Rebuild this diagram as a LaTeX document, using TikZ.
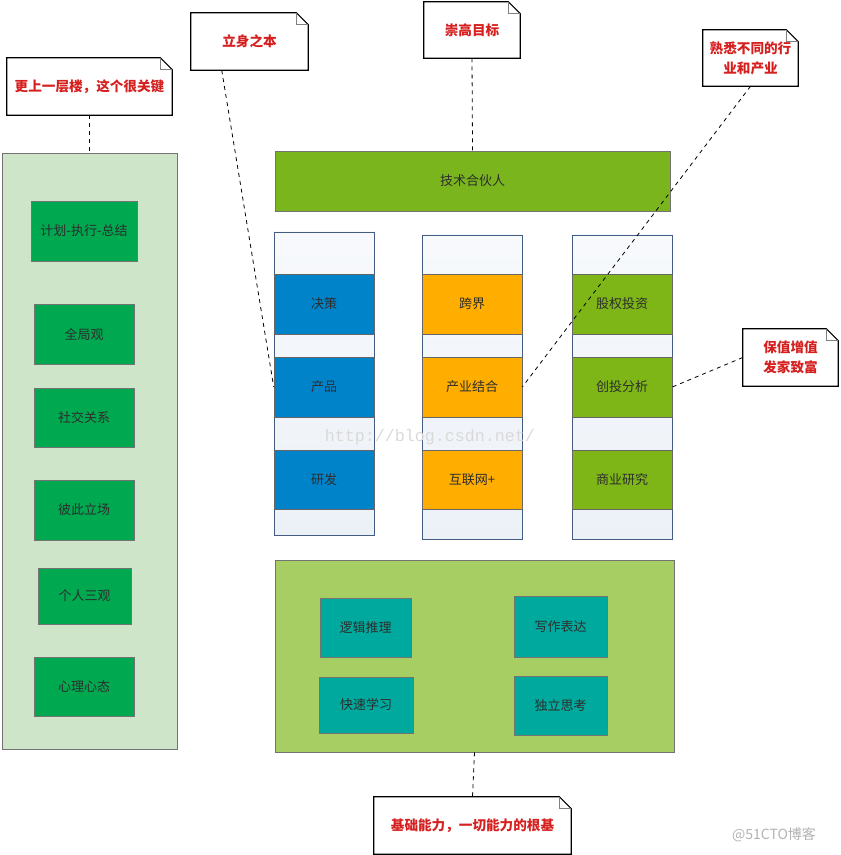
\documentclass[tikz,border=0pt]{standalone}
\usepackage{fontspec}
\setmainfont{Noto Sans CJK SC}
\setmonofont{Liberation Mono}
\usetikzlibrary{fit,calc}

\definecolor{leftpanel}{RGB}{207,229,201}
\definecolor{leftbox}{RGB}{0,168,80}
\definecolor{topbar}{RGB}{122,181,29}
\definecolor{bandblue}{RGB}{0,131,200}
\definecolor{bandorange}{RGB}{255,174,0}
\definecolor{bandgreen}{RGB}{125,182,22}
\definecolor{basepanel}{RGB}{166,206,99}
\definecolor{basebox}{RGB}{0,169,157}
\definecolor{collight}{RGB}{236,241,248}
\definecolor{coledge}{RGB}{68,92,130}
\definecolor{notered}{RGB}{214,32,32}
\definecolor{boxtext}{RGB}{45,45,45}

% note with folded corner
\newcommand{\notefold}[1]{%
  \draw[black,line width=0.8pt] (#1.north west) -- ($(#1.north east)+(-12,0)$) -- ($(#1.north east)+(0,12)$) -- (#1.south east) -- (#1.south west) -- cycle;
  \draw[gray] ($(#1.north east)+(-12,0)$) |- ($(#1.north east)+(0,12)$);}

\begin{document}
\begin{tikzpicture}[x=0.75pt,y=0.75pt,yscale=-1,xscale=1,
  every node/.style={font=\fontsize{9.75}{12}\selectfont,text=boxtext},
  txt/.style={label={center:#1}},
  panel/.style={draw=gray!90!black,inner sep=0pt},
  blk/.style={draw=black!55,inner sep=0pt},
  colbox/.style={draw=coledge,inner sep=0pt,top color=white!60!collight,bottom color=collight},
  band/.style={draw=black!60,inner sep=0pt},
  notebox/.style={inner sep=0pt,fill=white},
  notetxt/.style={label={[text=notered,align=center,font=\fontsize{10.2}{15}\selectfont\bfseries]center:#1}},
  noteline/.style={dashed,black,line width=0.6pt},
  wmark/.style={font=\fontsize{12.5}{14}\selectfont\ttfamily,text=black!15}]
\useasboundingbox (0,0) rectangle (840,855);

%Shape: left panel
\node[panel,fill=leftpanel,fit={(2,153)(177,749)}] (left) {};
\node[blk,fill=leftbox,fit={(31,201)(137,261)},txt={计划-执行-总结}] (plan) {};
\node[blk,fill=leftbox,fit={(34,304)(134,364)},txt={全局观}] (glob) {};
\node[blk,fill=leftbox,fit={(34,388)(134,447)},txt={社交关系}] (soc) {};
\node[blk,fill=leftbox,fit={(34,480)(134,540)},txt={彼此立场}] (pos) {};
\node[blk,fill=leftbox,fit={(38,568)(131,624)},txt={个人三观}] (view) {};
\node[blk,fill=leftbox,fit={(34,657)(134,716)},txt={心理心态}] (mind) {};

%Shape: top bar
\node[blk,fill=topbar,fit={(275,151)(670,211)},txt={技术合伙人}] (top) {};

%Shape: columns
\node[colbox,fit={(274,232)(374,535)}] (col1) {};
\node[colbox,fit={(422,235)(522,539)}] (col2) {};
\node[colbox,fit={(572,235)(672,539)}] (col3) {};

\node[band,fill=bandblue,fit={(274,274)(374,334)},txt={决策}] (dec) {};
\node[band,fill=bandblue,fit={(274,357)(374,417)},txt={产品}] (prod) {};
\node[band,fill=bandblue,fit={(274,450)(374,509)},txt={研发}] (rnd) {};

\node[band,fill=bandorange,fit={(422,274)(522,334)},txt={跨界}] (cross) {};
\node[band,fill=bandorange,fit={(422,357)(522,417)},txt={产业结合}] (ind) {};
\node[band,fill=bandorange,fit={(422,450)(522,509)},txt={互联网+}] (net) {};

\node[band,fill=bandgreen,fit={(572,274)(672,334)},txt={股权投资}] (equity) {};
\node[band,fill=bandgreen,fit={(572,357)(672,417)},txt={创投分析}] (vc) {};
\node[band,fill=bandgreen,fit={(572,450)(672,509)},txt={商业研究}] (biz) {};

%Shape: base panel
\node[panel,fill=basepanel,fit={(275,560)(674,752)}] (base) {};
\node[blk,fill=basebox,fit={(320,598)(411,657)},txt={逻辑推理}] (logic) {};
\node[blk,fill=basebox,fit={(514,596)(607,657)},txt={写作表达}] (write) {};
\node[blk,fill=basebox,fit={(319,677)(413,733)},txt={快速学习}] (learn) {};
\node[blk,fill=basebox,fit={(514,676)(607,735)},txt={独立思考}] (think) {};

%Shape: notes
\node[notebox,fit={(7,58)(172,115)},notetxt={更上一层楼，这个很关键}] (nt1) {};
\node[notebox,fit={(191,13)(308,70)},notetxt={立身之本}] (nt2) {};
\node[notebox,fit={(424,2)(520,58)},notetxt={崇高目标}] (nt3) {};
\node[notebox,fit={(703,30)(798,86)},notetxt={熟悉不同的行\\业和产业}] (nt4) {};
\node[notebox,fit={(743,329)(838,386)},notetxt={保值增值\\发家致富}] (nt5) {};
\node[notebox,fit={(374,797)(571,854)},notetxt={基础能力，一切能力的根基}] (nt6) {};
\notefold{nt1}
\notefold{nt2}
\notefold{nt3}
\notefold{nt4}
\notefold{nt5}
\notefold{nt6}

\draw[noteline] (nt1.south) -- (left.north);
\draw[noteline] ($(nt2.south west)+(31,0)$) -- (prod.west);
\draw[noteline] (nt3.south) -- (top.north);
\draw[noteline] (nt4.south) -- (ind.east);
\draw[noteline] (nt5.west) -- (vc.east);
\draw[noteline] (base.south) -- (nt6.north);

%watermarks
\node[wmark] (wm1) at (430,437) {http://blog.csdn.net/};
\node[font=\fontsize{10.5}{12}\selectfont,text=black!30] (wm2) at (774,835) {@51CTO博客};
\end{tikzpicture}
\end{document}
